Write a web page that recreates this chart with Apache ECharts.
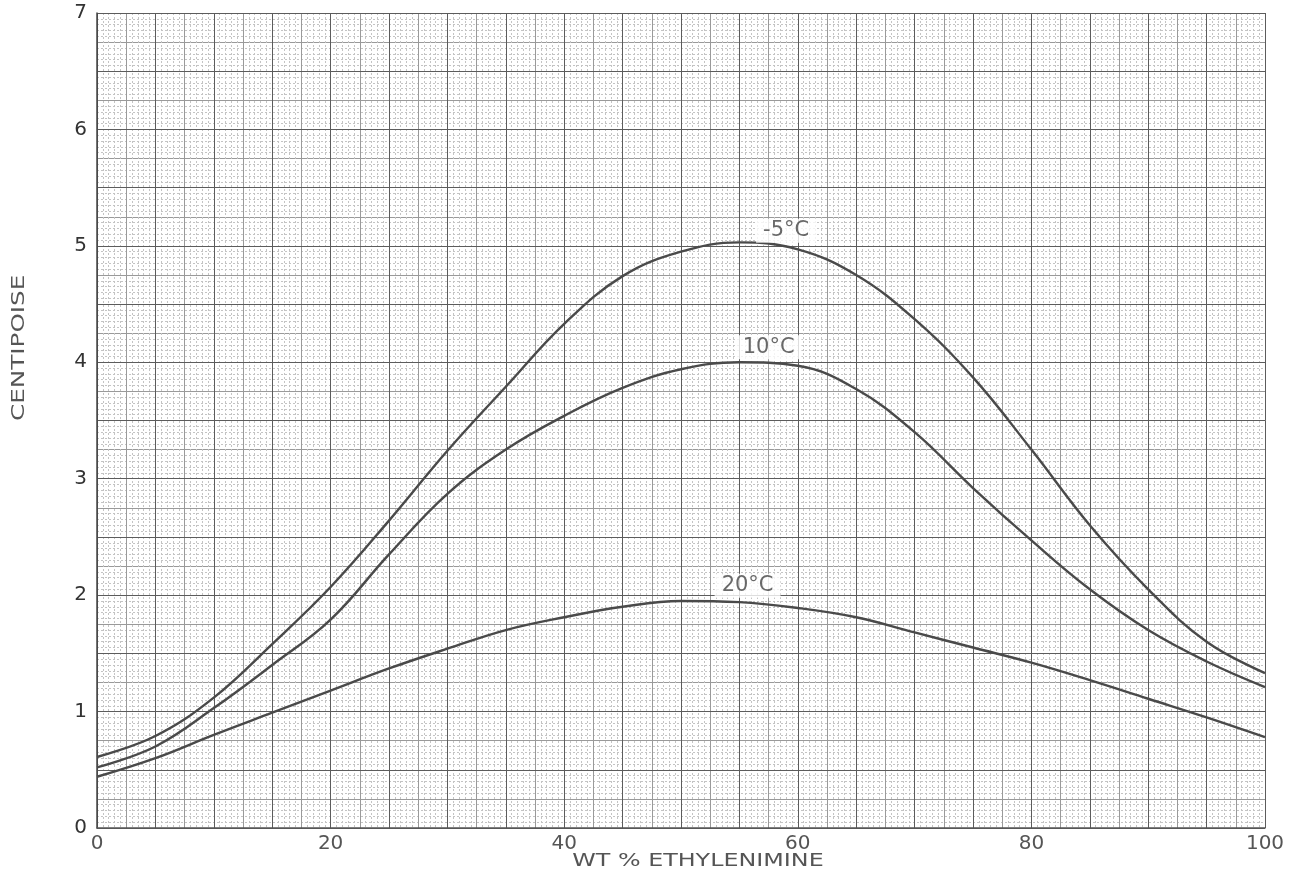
<!DOCTYPE html>
<html>
<head>
<meta charset="utf-8">
<script src="https://cdn.jsdelivr.net/npm/echarts@6/dist/echarts.min.js"></script>
<style>
  html, body { margin: 0; padding: 0; background: #fff; }
  #chart { width: 1298px; height: 879px; }
</style>
</head>
<body>
<div id="chart"></div>
<script>
// wt % ethylenimine sampled every 5
const wtPercent = [0, 5, 10, 15, 20, 25, 30, 35, 40, 45, 50, 55, 60, 65, 70, 75, 80, 85, 90, 95, 100];

// viscosity in centipoise
const viscMinus5 = [0.61, 0.79, 1.12, 1.58, 2.07, 2.64, 3.24, 3.79, 4.33, 4.74, 4.95, 5.03, 4.97, 4.75, 4.37, 3.87, 3.25, 2.60, 2.05, 1.60, 1.33];
const visc10 = [0.52, 0.70, 1.03, 1.40, 1.79, 2.35, 2.87, 3.25, 3.54, 3.78, 3.94, 4.00, 3.97, 3.77, 3.40, 2.92, 2.47, 2.05, 1.70, 1.43, 1.21];
const visc20 = [0.44, 0.60, 0.80, 0.99, 1.18, 1.37, 1.54, 1.70, 1.81, 1.90, 1.95, 1.94, 1.89, 1.81, 1.68, 1.55, 1.42, 1.27, 1.11, 0.95, 0.78];

const xTickLabels = [0, 20, 40, 60, 80, 100];
const yTickLabels = [0, 1, 2, 3, 4, 5, 6, 7];

// curve tags (data coords)
const curveNames = ["-5°C", "10°C", "20°C"];
const curveTagX = [59, 57.5, 55.7];
const curveTagY = [5.13, 4.13, 2.08];

const chart = echarts.init(document.getElementById("chart"));

const lineColor = "#4a4a4a";
const inkFont = "DejaVu Sans";
const toPoints = (vals) => wtPercent.map((x, i) => [x, vals[i]]);

const curve = (name, vals) => ({
  name: name,
  type: "line",
  xAxisIndex: 1,
  yAxisIndex: 1,
  data: toPoints(vals),
  smooth: 0.4,
  showSymbol: false,
  lineStyle: { color: lineColor, width: 2.4 },
  z: 5,
});

const option = {
  animation: false,
  backgroundColor: "#ffffff",
  grid: { left: 97, right: 33, top: 13, bottom: 51, containLabel: false, outerBoundsMode: "none" },
  xAxis: [
    {
      // fine paper grid
      type: "value",
      position: "top",
      min: 0,
      max: 100,
      interval: 2.5,
      z: 0,
      axisLine: { show: false },
      axisTick: { show: false },
      axisLabel: { show: false },
      splitLine: { show: true, lineStyle: { color: "#9a9a9a", width: 1 } },
      minorTick: { show: false, splitNumber: 5 },
      minorSplitLine: { show: true, lineStyle: { color: "#c4c4c4", width: 1, type: [2, 2] } },
    },
    {
      type: "value",
      position: "bottom",
      min: 0,
      max: 100,
      interval: 5,
      z: 1,
      axisLine: { show: true, onZero: false, lineStyle: { color: "#555", width: 1.5 } },
      axisTick: { show: false },
      axisLabel: {
        margin: 6,
        fontFamily: inkFont,
        fontSize: 20,
        color: "#555",
        formatter: (v) => (xTickLabels.includes(v) ? String(v) : ""),
      },
      splitLine: { show: true, lineStyle: { color: "#5c5c5c", width: 1 } },
    },
  ],
  yAxis: [
    {
      type: "value",
      position: "right",
      min: 0,
      max: 7,
      interval: 0.25,
      z: 0,
      axisLine: { show: false },
      axisTick: { show: false },
      axisLabel: { show: false },
      splitLine: { show: true, lineStyle: { color: "#9a9a9a", width: 1 } },
      minorTick: { show: false, splitNumber: 5 },
      minorSplitLine: { show: true, lineStyle: { color: "#c4c4c4", width: 1, type: [2, 2] } },
    },
    {
      type: "value",
      position: "left",
      min: 0,
      max: 7,
      interval: 0.5,
      z: 1,
      axisLine: { show: true, onZero: false, lineStyle: { color: "#444", width: 1.5 } },
      axisTick: { show: false },
      axisLabel: {
        margin: 10,
        fontFamily: inkFont,
        fontSize: 20,
        color: "#333",
        formatter: (v) => (yTickLabels.includes(v) ? String(v) : ""),
      },
      splitLine: { show: true, lineStyle: { color: "#5c5c5c", width: 1 } },
    },
  ],
  graphic: [
    {
      type: "text",
      x: 11,
      y: 421,
      rotation: Math.PI / 2,
      scaleX: 1.45,
      style: {
        text: "CENTIPOISE",
        fontFamily: inkFont,
        fontSize: 17,
        fill: "#555",
        align: "left",
        verticalAlign: "top",
      },
    },
    {
      type: "text",
      x: 698,
      y: 853,
      scaleX: 1.4,
      style: {
        text: "WT % ETHYLENIMINE",
        fontFamily: inkFont,
        fontSize: 17,
        fill: "#555",
        align: "center",
        verticalAlign: "top",
      },
    },
  ],
  series: [
    curve(curveNames[0], viscMinus5),
    curve(curveNames[1], visc10),
    curve(curveNames[2], visc20),
    {
      name: "tags",
      type: "scatter",
      xAxisIndex: 1,
      yAxisIndex: 1,
      symbolSize: 0,
      z: 6,
      data: curveNames.map((n, i) => ({ value: [curveTagX[i], curveTagY[i]], name: n })),
      label: {
        show: true,
        position: "inside",
        formatter: (p) => p.name,
        fontFamily: inkFont,
        fontSize: 21,
        color: "#444",
        backgroundColor: "#fff",
        padding: [2, 7, 1, 7],
      },
    },
  ],
};

chart.setOption(option);
</script>
</body>
</html>
